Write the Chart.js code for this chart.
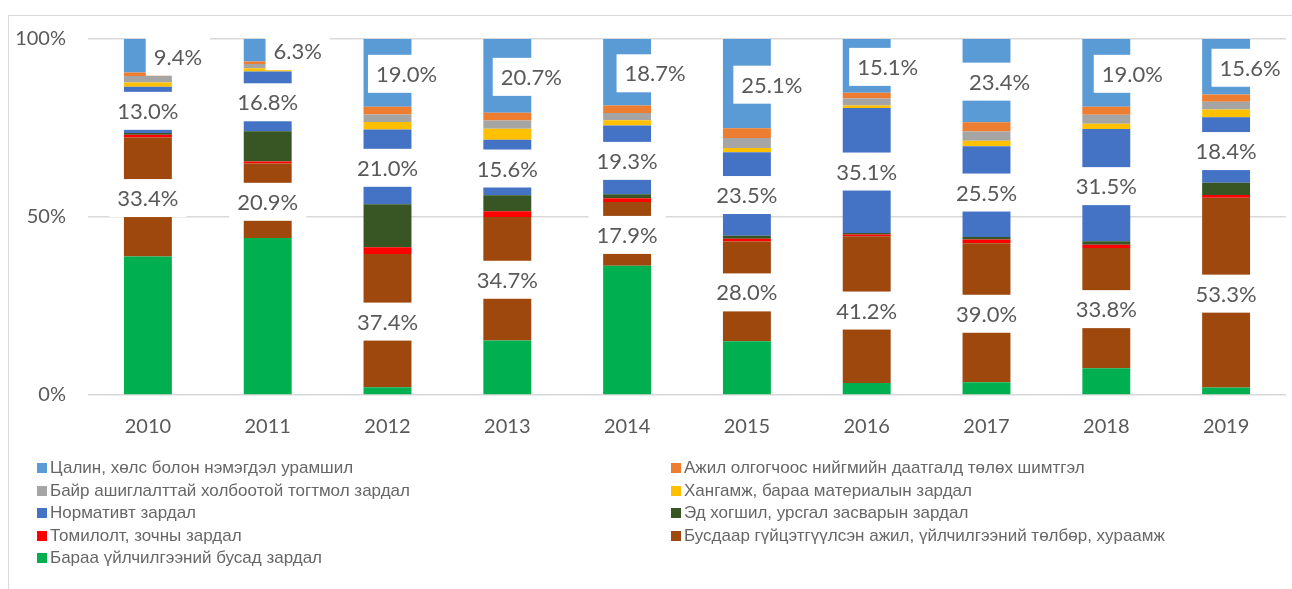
<!DOCTYPE html>
<html>
<head>
<meta charset="utf-8">
<script src="https://cdn.jsdelivr.net/npm/chart.js@4"></script>
<style>
  html, body { margin: 0; padding: 0; background: #fff; }
  body { width: 1292px; height: 589px; position: relative; overflow: hidden; }
  #frame { position: absolute; left: 8px; top: 15px; width: 1400px; height: 700px;
           border-left: 1px solid #d9d9d9; border-top: 1px solid #d9d9d9; }
  #c { position: absolute; left: 0; top: 0; }
  .lg { position: absolute; height: 22px; line-height: 22px; white-space: nowrap;
        font-family: "Liberation Sans", Arial, sans-serif; font-size: 17px; color: #666; }
  .lg i { position: absolute; left: 0; top: 6px; width: 10px; height: 10px; }
  .lg span { position: absolute; left: 13px; top: 0; }
</style>
</head>
<body>
<div id="frame"></div>
<canvas id="c" width="1292" height="589"></canvas>
<div id="legend"></div>
<script>
// ---- data (percent of total expenditure) ----
const years = ['2010','2011','2012','2013','2014','2015','2016','2017','2018','2019'];
const salary      = [9.4, 6.3, 19.0, 20.7, 18.7, 25.1, 15.1, 23.4, 19.0, 15.6];
const socialIns   = [1.0, 0.7, 2.2, 2.2, 2.1, 2.7, 1.6, 2.6, 2.3, 2.0];
const premises    = [1.8, 1.2, 2.1, 2.3, 2.0, 2.8, 2.0, 2.6, 2.5, 2.2];
const supplies    = [1.2, 0.9, 2.1, 3.1, 1.5, 1.2, 0.7, 1.5, 1.5, 2.2];
const normative   = [13.0, 16.8, 21.0, 15.6, 19.3, 23.5, 35.1, 25.5, 31.5, 18.4];
const maintenance = [0.5, 8.5, 12.1, 4.5, 1.1, 0.8, 0.4, 0.7, 1.0, 3.4];
const travel      = [0.8, 0.6, 1.9, 1.6, 1.1, 0.8, 0.5, 1.1, 0.9, 0.8];
const services    = [33.4, 20.9, 37.4, 34.7, 17.9, 28.0, 41.2, 39.0, 33.8, 53.3];
const otherGoods  = [38.9, 44.1, 2.2, 15.3, 36.3, 15.1, 3.4, 3.6, 7.5, 2.1];
const yTicks = [0, 50, 100];

const seriesNames = [
  'Цалин, хөлс болон нэмэгдэл урамшил',
  'Ажил олгогчоос нийгмийн даатгалд төлөх шимтгэл',
  'Байр ашиглалттай холбоотой тогтмол зардал',
  'Хангамж, бараа материалын зардал',
  'Нормативт зардал',
  'Эд хогшил, урсгал засварын зардал',
  'Томилолт, зочны зардал',
  'Бусдаар гүйцэтгүүлсэн ажил, үйлчилгээний төлбөр, хураамж',
  'Бараа үйлчилгээний бусад зардал'
];
const seriesValues = [salary, socialIns, premises, supplies, normative, maintenance, travel, services, otherGoods];
const seriesColors = ['#5B9BD5', '#ED7D31', '#A5A5A5', '#FFC000', '#4472C4', '#375623', '#FF0000', '#9E480E', '#00B050'];
const labelledSeries = [0, 4, 7];
// layout: horizontal shift of the salary labels (px)
const salaryLabelDx = [30, 30, 19, 24, 28, 25, 21, 13, 26, 24];

// datasets bottom -> top (reverse of legend order)
const datasets = [];
for (let k = seriesNames.length - 1; k >= 0; k--) {
  datasets.push({
    label: seriesNames[k],
    data: seriesValues[k],
    backgroundColor: seriesColors[k],
    borderWidth: 0,
    categoryPercentage: 1.0,
    barPercentage: 0.4,
    seriesIndex: k
  });
}

const labelPlugin = {
  id: 'boxLabels',
  afterDatasetsDraw(chart) {
    const ctx = chart.ctx;
    ctx.save();
    ctx.font = '22px Lato, "Open Sans", sans-serif';
    ctx.textAlign = 'center';
    ctx.textBaseline = 'middle';
    chart.data.datasets.forEach((ds, di) => {
      if (!labelledSeries.includes(ds.seriesIndex)) return;
      const meta = chart.getDatasetMeta(di);
      meta.data.forEach((bar, i) => {
        const txt = ds.data[i].toFixed(1) + '%';
        let cx = bar.x;
        let cy = (bar.y + bar.base) / 2 + 1;
        if (ds.seriesIndex === 0) {
          cx += salaryLabelDx[i];
          cy = Math.max(cy, chart.chartArea.top + 11);
        }
        const w = ctx.measureText(txt).width + 16;
        const h = 38;
        ctx.fillStyle = '#ffffff';
        ctx.fillRect(cx - w / 2, cy - h / 2, w, h);
        ctx.fillStyle = '#595959';
        ctx.fillText(txt, cx, cy + 1);
      });
    });
    ctx.restore();
  }
};

new Chart(document.getElementById('c'), {
  type: 'bar',
  data: { labels: years, datasets },
  options: {
    responsive: false,
    animation: false,
    layout: { padding: { left: 0, right: 6, top: 39, bottom: 0 } },
    plugins: { legend: { display: false }, tooltip: { enabled: false }, title: { display: false } },
    scales: {
      x: {
        stacked: true,
        grid: { display: false, drawTicks: false },
        border: { display: false },
        ticks: { color: '#595959', font: { family: 'Lato', size: 20 }, padding: 20 },
        afterFit(s) { s.height = 194; }
      },
      y: {
        stacked: true,
        min: 0, max: 100,
        afterBuildTicks(s) { s.ticks = yTicks.map(v => ({ value: v })); },
        grid: { color: '#d9d9d9', lineWidth: 1.5, drawTicks: false },
        border: { display: false },
        ticks: { color: '#595959', font: { family: 'Lato', size: 20 }, padding: 22,
                 callback: v => v + '%' },
        afterFit(s) { s.width = 88; }
      }
    }
  },
  plugins: [labelPlugin]
});

// legend (two columns, legend order)
const lg = document.getElementById('legend');
const colX = [37, 671];
const rowTop = [457, 479.5, 502, 524.5, 547];
seriesNames.forEach((name, k) => {
  const d = document.createElement('div');
  d.className = 'lg';
  d.style.left = colX[k % 2] + 'px';
  d.style.top = rowTop[Math.floor(k / 2)] + 'px';
  d.innerHTML = '<i style="background:' + seriesColors[k] + '"></i><span></span>';
  d.querySelector('span').textContent = name;
  lg.appendChild(d);
});
</script>
</body>
</html>
